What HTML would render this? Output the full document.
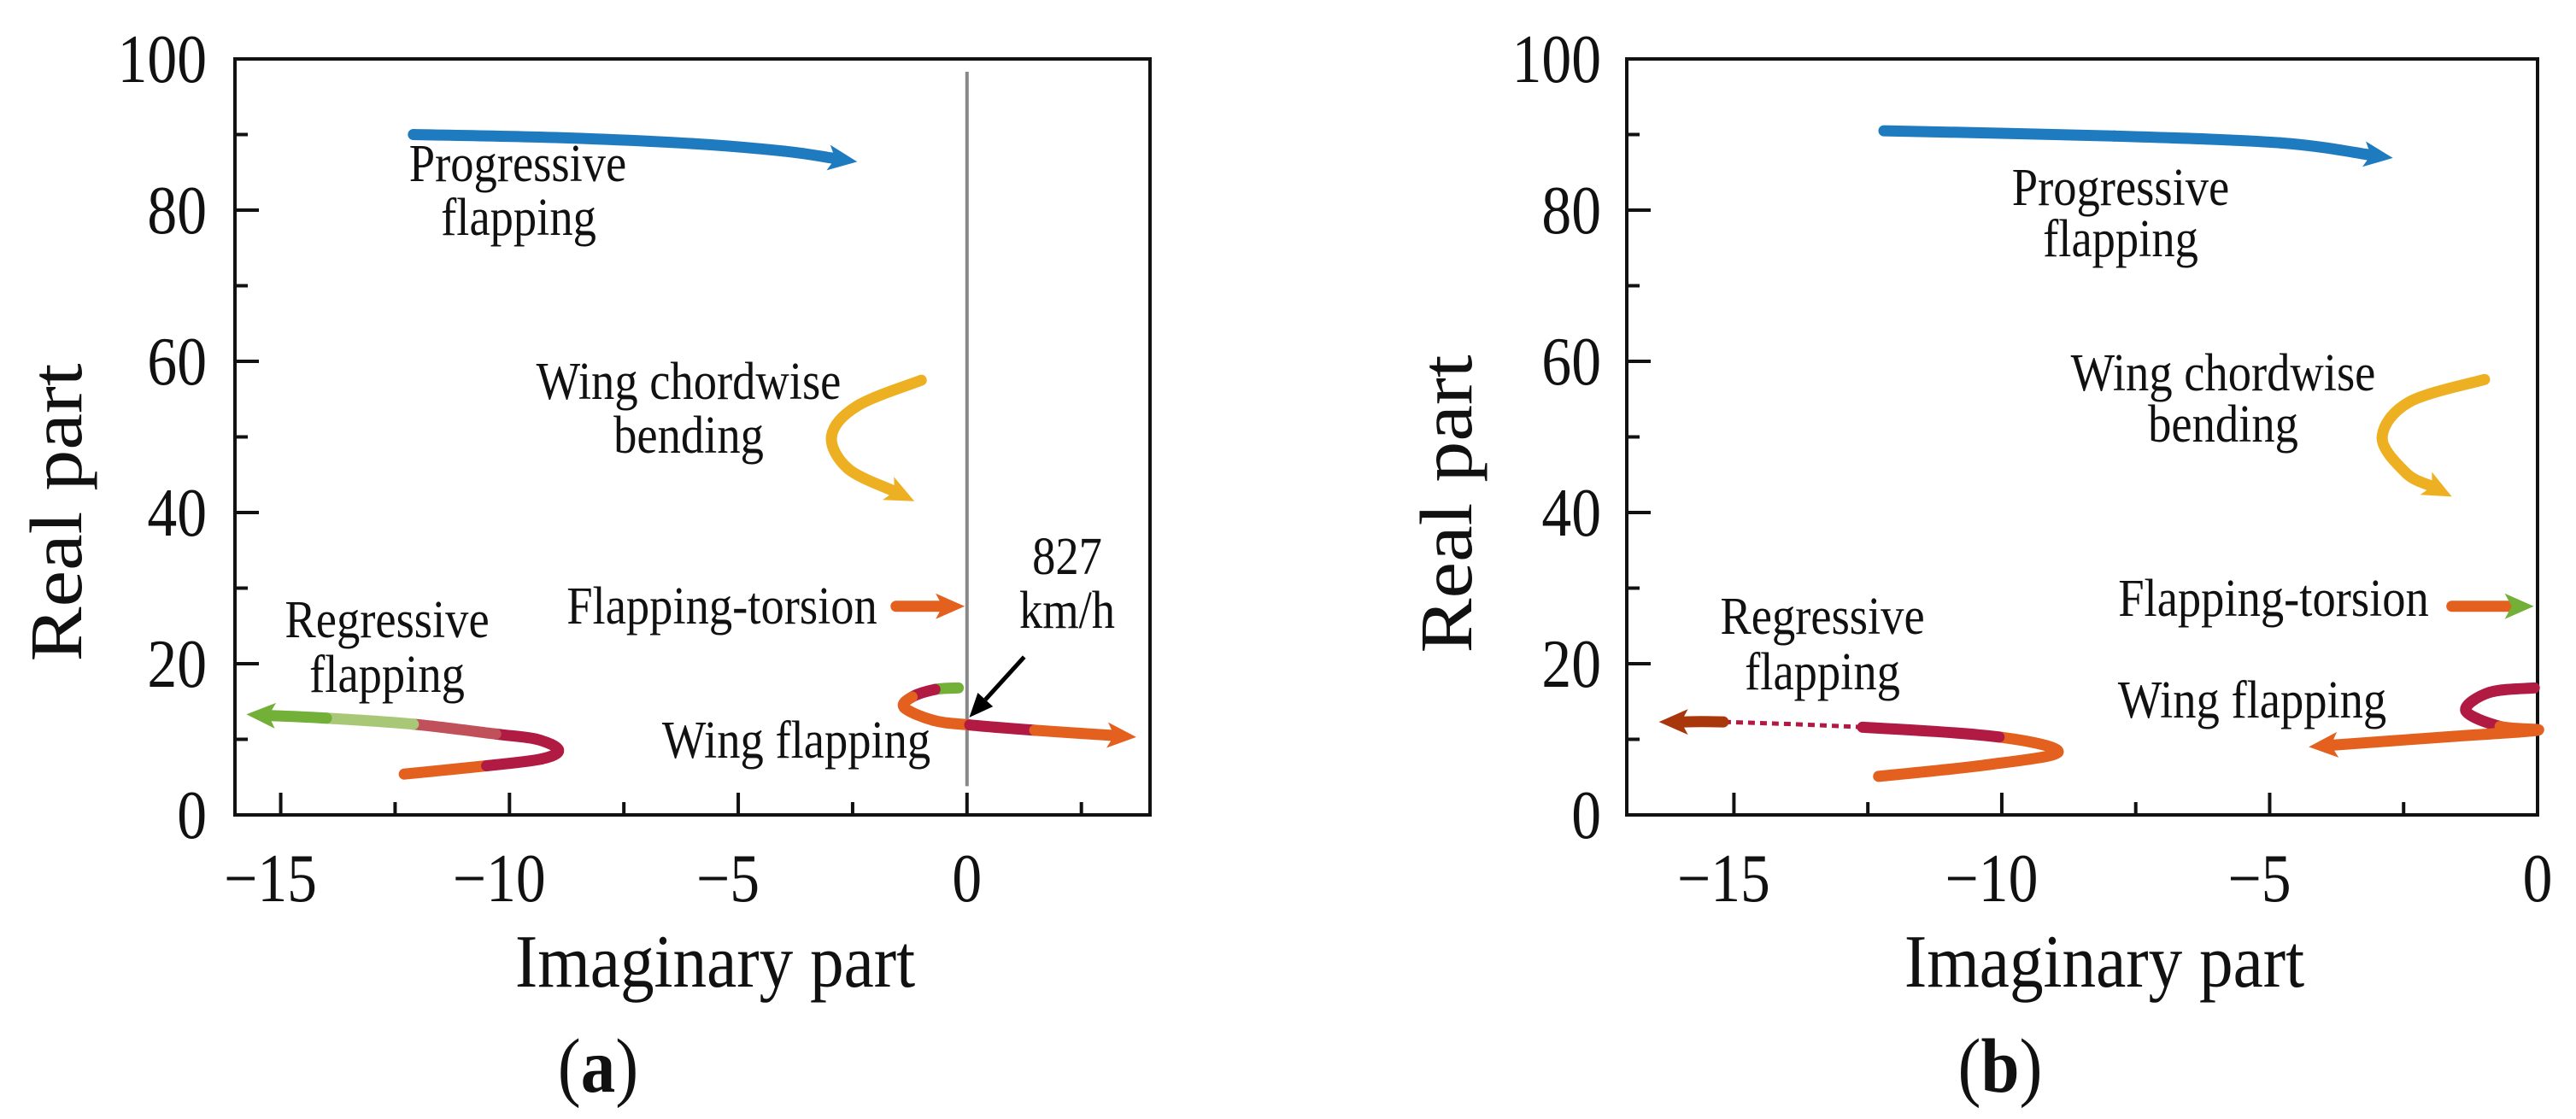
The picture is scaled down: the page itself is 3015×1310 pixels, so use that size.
<!DOCTYPE html>
<html><head><meta charset="utf-8"><style>
html,body{margin:0;padding:0;background:#fff}
svg{display:block}
text{font-family:"Liberation Serif",serif;fill:#111}
</style></head><body>
<svg id="chart" width="3015" height="1310" viewBox="0 0 3015 1310" xmlns="http://www.w3.org/2000/svg"></svg>
<script>
// ---- data (imaginary, real) ----
const yTicks = [0,20,40,60,80,100];
const xTicksA = [-15,-10,-5,0];
const xTicksB = [-15,-10,-5,0];
const aProgressive = [[-12.1,90],[-9,89.6],[-6,88.8],[-4,87.8],[-2.4,86.4]];
const aChordwise = [[-1.0,57.5],[-2.4,54.1],[-2.96,50.1],[-2.6,45.8],[-1.15,41.5]];
const aTorsion = [[-1.55,27.6],[-0.05,27.6]];
const aRegressive = [[-12.3,5.4],[-10.5,6.5],[-9.3,7.4],[-8.93,8.6],[-9.4,10],[-10.3,10.7],[-12.1,12.0],[-14,12.8],[-15.75,13.3]];
const aWing = [[-0.19,16.8],[-0.7,16.6],[-1.2,15.6],[-1.37,14.2],[-0.73,12.5],[0.06,11.9],[1.48,11.2],[3.7,10.3]];
const bProgressive = [[-12.2,90.5],[-7.9,89.8],[-4.8,88.9],[-2.7,86.9]];
const bChordwise = [[-0.99,57.6],[-2.4,54.6],[-2.9,49.9],[-2.45,45.2],[-1.6,42.1]];
const bTorsion = [[-1.6,27.6],[-0.07,27.6]];
const bRegressive = [[-12.3,5.1],[-10.3,6.6],[-8.95,8.3],[-10.05,10.3],[-12.6,11.6],[-15.2,12.3],[-16.4,12.3]];
const bWing = [[-0.06,16.8],[-0.9,16.2],[-1.34,13.8],[-0.7,11.7],[0,11.2],[-1.55,10.4],[-4.27,9.0]];

const NS='http://www.w3.org/2000/svg';
const svg=document.getElementById('chart');
function el(tag,attrs,parent){const e=document.createElementNS(NS,tag);for(const k in attrs)e.setAttribute(k,attrs[k]);(parent||svg).appendChild(e);return e;}
function txt(s,x,y,size,anchor,parent,sx){
  const t=el('text',{transform:`translate(${x},${y}) scale(${sx||0.9},1)`,'font-size':size,'text-anchor':anchor||'middle'},parent);
  t.textContent=s;return t;}

function makePanel(p){
  const g=el('g',{});
  
  
  const sx=v=>p.x0+(v-p.xmin)/(p.xmax-p.xmin)*(p.x1-p.x0);
  const sy=v=>p.y0-(v/100)*(p.y0-p.y1);
  p.sx=sx;p.sy=sy;p.g=g;
  for(let v=0;v<=100;v+=10){
    const major=v%20===0;const L=major?28:15;
    const t=el('line',{x1:p.x0,x2:p.x0+L,y1:sy(v),y2:sy(v),stroke:'#111','stroke-width':4},g);
    
    
  }
  yTicks.forEach(v=>{const t=txt(String(v),p.ylabX,sy(v)+27,80,'end',g,0.87);
    
    });
  for(let v=Math.ceil(p.xmin/2.5)*2.5;v<=p.xmax+0.01;v+=2.5){
    const major=Math.abs(v%5)<0.01;const L=major?26:15;
    const t=el('line',{x1:sx(v),x2:sx(v),y1:p.y0,y2:p.y0-L,stroke:'#111','stroke-width':4},g);
    
    
  }
  p.xTicks.forEach(v=>{const t=txt(v<0?'\u2212'+Math.abs(v):String(v),sx(v)-(v<0?12:0),1055,80,'middle',g,0.87);
    
    });
  const box=el('rect',{x:p.x0,y:p.y1,width:p.x1-p.x0,height:p.y0-p.y1,fill:'none',stroke:'#111','stroke-width':4},g);
  
  
  const xt=txt('Imaginary part',p.xtX,1155,88,'middle',g,0.9);
  
  
  const yt=el('text',{transform:`translate(${p.ytX},${p.ytY}) rotate(-90) scale(1,0.9)`,'font-size':96,'text-anchor':'middle'},g);
  yt.textContent='Real part';
  
  
  const cap=el('text',{transform:`translate(${p.capX},1278) scale(0.9,1)`,'font-size':90,'text-anchor':'middle'},g);
  cap.innerHTML='(<tspan font-weight="bold">'+p.cap+'</tspan>)';
  
  
  return p;
}

function curve(p,pts,colors,name,opts){
  opts=opts||{};
  const g=el('g',{},p.g);
  
  
  const P=pts.map(d=>[p.sx(d[0]),p.sy(d[1])]);
  const n=P.length;
  const a=P[n-2],b=P[n-1];const dx=b[0]-a[0],dy=b[1]-a[1];const len=Math.hypot(dx,dy);const ux=dx/len,uy=dy/len;
  const hl=34,hw=15;
  const Q=P.slice();Q[n-1]=[b[0]-ux*hl*0.8,b[1]-uy*hl*0.8];
  for(let i=0;i<n-1;i++){
    const p0=Q[Math.max(i-1,0)],p1=Q[i],p2=Q[i+1],p3=Q[Math.min(i+2,n-1)];
    const c1=[p1[0]+(p2[0]-p0[0])/6,p1[1]+(p2[1]-p0[1])/6];
    const c2=[p2[0]-(p3[0]-p1[0])/6,p2[1]-(p3[1]-p1[1])/6];
    const thin=opts.thin&&opts.thin[i];
    const ln=el('path',{d:`M${p1[0]},${p1[1]} C${c1[0]},${c1[1]} ${c2[0]},${c2[1]} ${p2[0]},${p2[1]}`,fill:'none',stroke:colors[i],'stroke-width':thin?5:13,'stroke-linecap':thin?'butt':'round'},g);
    if(thin)ln.setAttribute('stroke-dasharray','8 6');
  }
  const bx=b[0]-ux*hl,by=b[1]-uy*hl;
  const head=el('polygon',{points:`${b[0]},${b[1]} ${bx-uy*hw},${by+ux*hw} ${bx+ux*8},${by+uy*8} ${bx+uy*hw},${by-ux*hw}`,fill:opts.head||colors[n-2]},g);
  
  
}

const BLUE='#1f7bc0',YEL='#eeb023',ORA='#e3601f',CRIM='#b11a42',GRN='#72b038',BRN='#a8380c';

// Panel a
const A=makePanel({name:'panel-a',x0:275,x1:1346,xmin:-16,xmax:4,y0:954,y1:69,ylabX:242,xTicks:xTicksA,xtX:837,ytX:95,ytY:600,capX:700,cap:'a'});
const zl=el('line',{x1:A.sx(0),x2:A.sx(0),y1:A.sy(98.3),y2:A.sy(3.8),stroke:'#888','stroke-width':4},A.g);


curve(A,aProgressive,[BLUE,BLUE,BLUE,BLUE],'progressive-flapping-a');
curve(A,aChordwise,[YEL,YEL,YEL,YEL],'chordwise-bending-a');
curve(A,aTorsion,[ORA],'flapping-torsion-a');
curve(A,aRegressive,[ORA,CRIM,CRIM,CRIM,CRIM,'#c0505a','#a8c878',GRN],'regressive-flapping-a');
curve(A,aWing,[GRN,CRIM,ORA,ORA,ORA,CRIM,ORA],'wing-flapping-a');
const ar=el('g',{},A.g);


(function(){const t=[A.sx(1.25),A.sy(20.9)],h=[A.sx(0.05),A.sy(12.9)];
 const dx=h[0]-t[0],dy=h[1]-t[1],L=Math.hypot(dx,dy),ux=dx/L,uy=dy/L;
 const bx=h[0]-ux*28,by=h[1]-uy*28;
 el('line',{x1:t[0],y1:t[1],x2:bx,y2:by,stroke:'#000','stroke-width':5},ar);
 el('polygon',{points:`${h[0]},${h[1]} ${bx-uy*12},${by+ux*12} ${bx+uy*12},${by-ux*12}`,fill:'#000'},ar);})();
[['Progressive',606,212],['flapping',607,275],['Wing chordwise',806,467],['bending',806,530],['Flapping-torsion',845,730],['Regressive',453,746],['flapping',453,810],['Wing flapping',932,887],['827',1249,672],['km/h',1249,735]].forEach(a=>{
  const t=txt(a[0],a[1],a[2],62,'middle',A.g,0.88);
  
  });

// Panel b
const B=makePanel({name:'panel-b',x0:1904,x1:2970,xmin:-17,xmax:0,y0:954,y1:69,ylabX:1874,xTicks:xTicksB,xtX:2463,ytX:1722,ytY:590,capX:2341,cap:'b'});
curve(B,bProgressive,[BLUE,BLUE,BLUE],'progressive-flapping-b');
curve(B,bChordwise,[YEL,YEL,YEL,YEL],'chordwise-bending-b');
curve(B,bTorsion,[ORA],'flapping-torsion-b',{head:GRN});
curve(B,bRegressive,[ORA,ORA,ORA,CRIM,CRIM,BRN],'regressive-flapping-b',{thin:[0,0,0,0,1,0]});
curve(B,bWing,[CRIM,CRIM,CRIM,ORA,ORA,ORA],'wing-flapping-b');
[['Progressive',2482,240],['flapping',2482,300],['Wing chordwise',2602,457],['bending',2602,517],['Flapping-torsion',2661,721],['Regressive',2133,742],['flapping',2133,807],['Wing flapping',2636,840]].forEach(a=>{
  const t=txt(a[0],a[1],a[2],62,'middle',B.g,0.88);
  
  });
</script>
</body></html>
